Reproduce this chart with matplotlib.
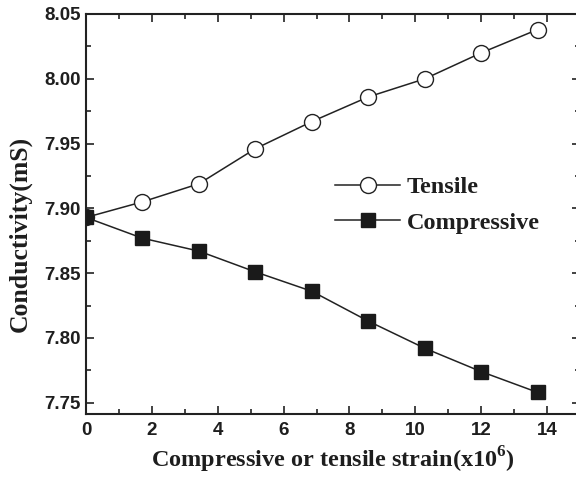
import matplotlib
matplotlib.use("Agg")
import matplotlib.pyplot as plt
from matplotlib.ticker import MultipleLocator

plt.rcParams['mathtext.fontset'] = 'custom'
plt.rcParams['mathtext.rm'] = 'Liberation Serif:bold'
plt.rcParams['mathtext.bf'] = 'Liberation Serif:bold'

strain = [0, 1.71, 3.43, 5.14, 6.86, 8.57, 10.29, 12.0, 13.71]
tensile = [7.893, 7.905, 7.919, 7.946, 7.967, 7.986, 8.000, 8.020, 8.038]
compressive = [7.893, 7.877, 7.867, 7.851, 7.836, 7.813, 7.792, 7.774, 7.758]
xticks = [0, 2, 4, 6, 8, 10, 12, 14]
yticks = [7.75, 7.80, 7.85, 7.90, 7.95, 8.00, 8.05]

W, H = 576, 479
fig = plt.figure(figsize=(W/100, H/100), dpi=100)
left, right, top, bottom = 86, 580, 14, 414
ax = fig.add_axes([left/W, 1-bottom/H, (right-left)/W, (bottom-top)/H])

ax.plot(strain, tensile, '-', color='#222222', lw=1.1, marker='o', ms=11.5,
        mfc='white', mec='#222222', mew=1.0, label='Tensile', zorder=3)
ax.plot(strain, compressive, '-', color='#222222', lw=1.1, marker='s', ms=10.5,
        mfc='#1a1a1a', mec='#1a1a1a', mew=1.0, label='Compressive', zorder=3)

ax.set_xlim(0, 15)
ax.set_ylim(7.7413, 8.05)
ax.set_xticks(xticks)
ax.set_yticks(yticks)
ax.set_xticklabels([str(v) for v in xticks])
ax.set_yticklabels([f"{v:.2f}" for v in yticks])
ax.xaxis.set_minor_locator(MultipleLocator(1))
ax.yaxis.set_minor_locator(MultipleLocator(0.025))
ax.tick_params(which='both', direction='in', top=True, right=True, width=1.2, color='#222222')
ax.tick_params(which='major', length=6)
ax.tick_params(which='minor', length=3.5)
for lab in ax.get_xticklabels() + ax.get_yticklabels():
    lab.set_fontfamily('Liberation Sans')
    lab.set_fontweight('bold')
    lab.set_fontsize(13.5)
    lab.set_color('#1e1e1e')
ax.tick_params(axis='x', pad=6)
ax.tick_params(axis='y', pad=4)
for s in ax.spines.values():
    s.set_linewidth(1.5)
    s.set_color('#222222')

serif = {'family': 'Liberation Serif', 'weight': 'bold', 'size': 17.5}
ax.set_xlabel(r'Compressive or tensile strain(x10$^{\mathbf{6}}$)', fontdict=serif, color='#1e1e1e', labelpad=4)
ax.set_ylabel('Conductivity(mS)', fontdict={'family': 'Liberation Serif', 'weight': 'bold', 'size': 18.5},
              color='#1e1e1e')
ax.yaxis.set_label_coords(-0.11, 0.45)

leg = ax.legend(loc='upper left', bbox_to_anchor=(0.4595, 0.6495), frameon=False,
                prop={'family': 'Liberation Serif', 'weight': 'bold', 'size': 17.5},
                handlelength=2.7, handletextpad=0.25, labelspacing=0.56)
for t in leg.get_texts():
    t.set_color('#1e1e1e')

fig.savefig('out.png', dpi=100)
